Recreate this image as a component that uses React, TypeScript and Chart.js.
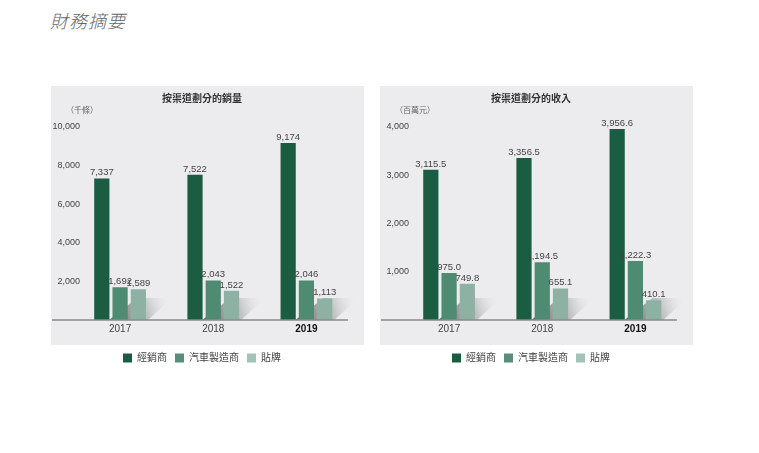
import React, {useEffect, useRef} from "react";
import {Chart, registerables, Plugin} from "chart.js";

Chart.register(...registerables);

const years = ["2017", "2018", "2019"];
const seriesNames = ["經銷商", "汽車製造商", "貼牌"];

const volumeDealer = [7337, 7522, 9174];
const volumeOem = [1692, 2043, 2046];
const volumeBrand = [1589, 1522, 1113];

const revenueDealer = [3115.5, 3356.5, 3956.6];
const revenueOem = [975.0, 1194.5, 1222.3];
const revenueBrand = [749.8, 655.1, 410.1];

const colors = ["#1b5d42", "#4f8a72", "#8db2a3"];
const legendColors = ["#1a5c40", "#5a8d77", "#a3c3b6"];
const FONT = "'Liberation Sans', 'Noto Sans CJK TC', sans-serif";

interface PanelProps {
    title: string;
    unit: string;
    series: number[][];
    max: number;
    step: number;
    decimals: number;
}

const Panel: React.FC<PanelProps> = ({title, unit, series, max, step, decimals}) => {
    const canvasRef = useRef<HTMLCanvasElement | null>(null);

    useEffect(() => {
        if (!canvasRef.current) return;
        const fmt = (v: number) =>
            v.toLocaleString("en-US", {minimumFractionDigits: decimals, maximumFractionDigits: decimals});

        const panelPlugin: Plugin<"bar"> = {
            id: "panel",
            beforeDraw(chart) {
                const ctx = chart.ctx;
                ctx.save();
                ctx.fillStyle = "#ececee";
                ctx.fillRect(0, 0, chart.width, 259);
                ctx.fillStyle = "#666";
                ctx.font = `8px ${FONT}`;
                ctx.textBaseline = "middle";
                ctx.fillText(unit, 15, 25);
                // y tick labels, right aligned a little inside the plot area
                const yScale = chart.scales.y;
                ctx.fillStyle = "#444";
                ctx.font = `9px ${FONT}`;
                ctx.textAlign = "right";
                yScale.ticks.forEach((t) => {
                    if (t.value === 0) return;
                    ctx.fillText(t.value.toLocaleString("en-US"), 29, yScale.getPixelForValue(t.value));
                });
                ctx.restore();
            },
            beforeDatasetsDraw(chart) {
                // diagonal shadows behind each group
                const ctx = chart.ctx;
                const first = chart.getDatasetMeta(0).data;
                const last = chart.getDatasetMeta(2).data;
                ctx.save();
                first.forEach((bar: any, i) => {
                    const end: any = last[i];
                    const left = bar.x - bar.width / 2 + 15;
                    const right = end.x + end.width / 2 + 2;
                    const base = bar.base;
                    const g = ctx.createLinearGradient(left, base, right + 22, base - 22);
                    g.addColorStop(0, "rgba(40,40,40,0.75)");
                    g.addColorStop(0.6, "rgba(120,120,120,0.35)");
                    g.addColorStop(1, "rgba(236,236,238,0)");
                    ctx.fillStyle = g;
                    ctx.beginPath();
                    ctx.moveTo(left, base);
                    ctx.lineTo(right, base);
                    ctx.lineTo(right + 24, base - 22);
                    ctx.lineTo(left + 28, base - 22);
                    ctx.closePath();
                    ctx.fill();
                });
                ctx.restore();
            },
            afterDatasetsDraw(chart) {
                const ctx = chart.ctx;
                ctx.save();
                const y0 = chart.scales.y.getPixelForValue(0);
                ctx.strokeStyle = "#8a8a8a";
                ctx.lineWidth = 1.5;
                ctx.beginPath();
                ctx.moveTo(1, y0);
                ctx.lineTo(297, y0);
                ctx.stroke();
                ctx.fillStyle = "#444";
                ctx.font = `9.5px ${FONT}`;
                ctx.textAlign = "center";
                ctx.textBaseline = "bottom";
                chart.data.datasets.forEach((ds, di) => {
                    chart.getDatasetMeta(di).data.forEach((bar: any, i) => {
                        ctx.fillText(fmt(ds.data[i] as number), bar.x, bar.y - 1);
                    });
                });
                ctx.restore();
            },
        };

        const chart = new Chart(canvasRef.current, {
            type: "bar",
            data: {
                labels: years,
                datasets: series.map((data, i) => ({
                    label: seriesNames[i],
                    data,
                    backgroundColor: colors[i],
                    borderWidth: 0,
                    categoryPercentage: 0.588,
                    barPercentage: 0.833,
                })),
            },
            options: {
                responsive: false,
                animation: false,
                layout: {padding: {left: 0, right: 11, top: 0, bottom: 0}},
                scales: {
                    x: {
                        grid: {display: false, drawTicks: false},
                        border: {display: false},
                        afterFit: (scale) => {
                            scale.height = 25;
                        },
                        ticks: {
                            padding: 3,
                            font: (c) => ({family: FONT, size: 10, weight: c.index === 2 ? "bold" : "normal"}),
                            color: (c) => (c.index === 2 ? "#111" : "#444"),
                        },
                    },
                    y: {
                        min: 0,
                        max,
                        grid: {display: false, drawTicks: false},
                        border: {display: false},
                        afterFit: (scale) => {
                            scale.width = 22.5;
                        },
                        ticks: {
                            stepSize: step,
                            display: false,
                        },
                    },
                },
                plugins: {
                    title: {
                        display: true,
                        text: title,
                        color: "#333",
                        font: {family: FONT, size: 10, weight: "bold", lineHeight: 1.2},
                        padding: {top: 7, bottom: 22},
                    },
                    legend: {
                        position: "bottom",
                        labels: {
                            boxWidth: 9,
                            boxHeight: 9,
                            padding: 8,
                            color: "#444",
                            font: {family: FONT, size: 10},
                            generateLabels: (chart) =>
                                chart.data.datasets.map((ds, i) => ({
                                    text: ds.label as string,
                                    fillStyle: legendColors[i],
                                    strokeStyle: legendColors[i],
                                    lineWidth: 0,
                                    datasetIndex: i,
                                    hidden: false,
                                    fontColor: "#444",
                                })),
                        },
                    },
                    tooltip: {enabled: false},
                },
            },
            plugins: [panelPlugin],
        });

        return () => {
            chart.destroy();
        };
    }, [title, unit, series, max, step, decimals]);

    return <canvas ref={canvasRef} width={313} height={287} style={{display: "block"}}/>;
};

const App: React.FC = () => {
    return (
        <div style={{position: "relative", width: 743, height: 437}}>
            <div
                style={{
                    position: "absolute",
                    left: 42,
                    top: 3,
                    fontFamily: "'Noto Sans CJK TC', sans-serif",
                    fontStyle: "italic",
                    fontWeight: 300,
                    fontSize: 18,
                    lineHeight: "18px",
                    color: "#666",
                    letterSpacing: 1,
                }}
            >
                財務摘要
            </div>
            <div style={{position: "absolute", left: 43, top: 78}}>
                <Panel title="按渠道劃分的銷量" unit="（千條）" series={[volumeDealer, volumeOem, volumeBrand]}
                       max={10000} step={2000} decimals={0}/>
            </div>
            <div style={{position: "absolute", left: 372, top: 78}}>
                <Panel title="按渠道劃分的收入" unit="（百萬元）" series={[revenueDealer, revenueOem, revenueBrand]}
                       max={4000} step={1000} decimals={1}/>
            </div>
        </div>
    );
};

export default App;
